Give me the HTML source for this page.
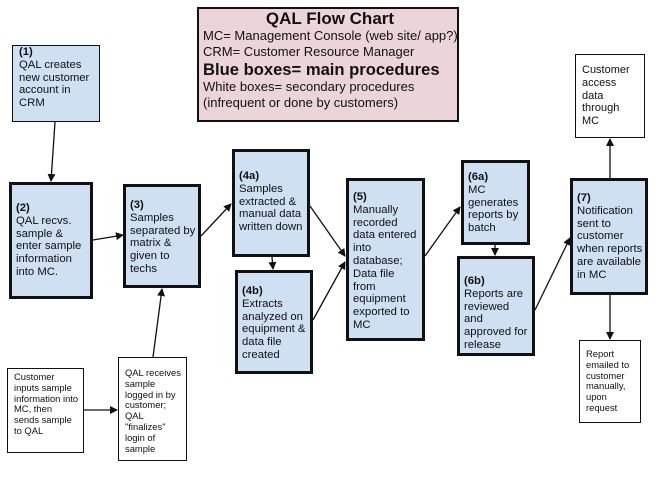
<!DOCTYPE html>
<html><head><style>
body{margin:0;width:666px;height:496px;background:#fff;position:relative;overflow:hidden;font-family:"Liberation Sans",sans-serif;color:#111}
.b{position:absolute;box-sizing:border-box;background:#cfe0f3;border:3px solid #111;font-size:11.3px;line-height:12.8px;padding:6px 2px 0 4px;white-space:nowrap}
.t{border-width:1.5px}
.w{position:absolute;box-sizing:border-box;background:#fff;border:1.5px solid #111;font-size:9.4px;line-height:10.8px;padding:6px 5px;white-space:nowrap}
svg{position:absolute;left:0;top:0}
</style></head><body>
<div style="position:absolute;left:197px;top:7px;width:262px;height:115px;box-sizing:border-box;background:#ecd5da;border:2.5px solid #111;padding:0 0 0 4px;font-size:13px;line-height:16px;white-space:nowrap">
<div style="text-align:center;font-weight:bold;font-size:17px;line-height:19px">QAL Flow Chart</div>
MC= Management Console (web site/ app?)<br>CRM= Customer Resource Manager<br>
<div style="font-weight:bold;font-size:16.6px;line-height:19px">Blue boxes= main procedures</div>
White boxes= secondary procedures<br>(infrequent or done by customers)</div>

<div class="b t" style="left:12px;top:45px;width:88px;height:77px;padding-top:0;padding-left:6px"><b>(1)</b><br>QAL creates<br>new customer<br>account in<br>CRM</div>
<div class="b" style="left:9px;top:182px;width:84px;height:117px;padding-top:17px"><b>(2)</b><br>QAL recvs.<br>sample &amp;<br>enter sample<br>information<br>into MC.</div>
<div class="b" style="left:123px;top:184px;width:78px;height:104px;padding-top:12px"><b>(3)</b><br>Samples<br>separated by<br>matrix &amp;<br>given to<br>techs</div>
<div class="b" style="left:232px;top:149px;width:78px;height:108px;padding-top:18px"><b>(4a)</b><br>Samples<br>extracted &amp;<br>manual data<br>written down</div>
<div class="b" style="left:235px;top:270px;width:78px;height:104px;padding-top:12px"><b>(4b)</b><br>Extracts<br>analyzed on<br>equipment &amp;<br>data file<br>created</div>
<div class="b" style="left:346px;top:178px;width:79px;height:163px;padding-top:10px"><b>(5)</b><br>Manually<br>recorded<br>data entered<br>into<br>database;<br>Data file<br>from<br>equipment<br>exported to<br>MC</div>
<div class="b" style="left:461px;top:160px;width:69px;height:85px;padding-top:8px"><b>(6a)</b><br>MC<br>generates<br>reports by<br>batch</div>
<div class="b" style="left:457px;top:256px;width:78px;height:100px;padding-top:16px"><b>(6b)</b><br>Reports are<br>reviewed<br>and<br>approved for<br>release</div>
<div class="b" style="left:570px;top:178px;width:78px;height:117px;padding-top:11px"><b>(7)</b><br>Notification<br>sent to<br>customer<br>when reports<br>are available<br>in MC</div>

<div class="w" style="left:575px;top:54px;width:70px;height:84px;font-size:11px;line-height:12.8px;padding:9px 6px">Customer<br>access<br>data<br>through<br>MC</div>
<div class="w" style="left:579px;top:340px;width:62px;height:83px;padding:8px 6px">Report<br>emailed to<br>customer<br>manually,<br>upon<br>request</div>
<div class="w" style="left:7px;top:368px;width:77px;height:85px;padding:3px 6px">Customer<br>inputs sample<br>information into<br>MC, then<br>sends sample<br>to QAL</div>
<div class="w" style="left:118px;top:357px;width:69px;height:104px;padding:10px 6px">QAL receives<br>sample<br>logged in by<br>customer;<br>QAL<br>"finalizes"<br>login of<br>sample</div>

<svg width="666" height="496">
<defs><marker id="a" markerWidth="8" markerHeight="8" refX="7" refY="4" orient="auto" markerUnits="userSpaceOnUse"><path d="M0,0L8,4L0,8z" fill="#111"/></marker></defs>
<g stroke="#111" stroke-width="1.3" fill="none" marker-end="url(#a)">
<line x1="55" y1="122" x2="51" y2="181"/>
<line x1="93" y1="240" x2="123" y2="235"/>
<line x1="201" y1="236" x2="231" y2="204"/>
<line x1="272" y1="257" x2="273" y2="269"/>
<line x1="310" y1="206" x2="345" y2="256"/>
<line x1="313" y1="320" x2="345" y2="262"/>
<line x1="425" y1="256" x2="460" y2="207"/>
<line x1="495" y1="245" x2="495" y2="255"/>
<line x1="535" y1="310" x2="570" y2="238"/>
<line x1="610" y1="178" x2="610" y2="139"/>
<line x1="610" y1="295" x2="610" y2="339"/>
<line x1="84" y1="410" x2="117" y2="410"/>
<line x1="153" y1="357" x2="162" y2="289"/>
</g></svg>
</body></html>
